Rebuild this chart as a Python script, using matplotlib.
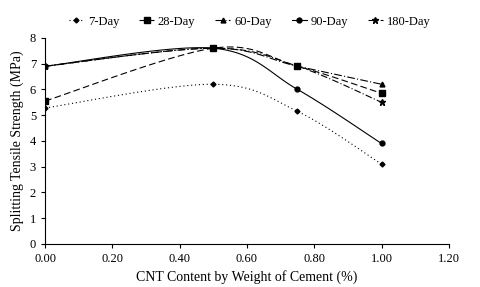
import numpy as np
import matplotlib.pyplot as plt
from matplotlib.lines import Line2D

plt.rcParams['font.family'] = ['Liberation Serif', 'DejaVu Serif']

cnt = [0.0, 0.5, 0.75, 1.0]
day7 = [5.28, 6.2, 5.15, 3.1]
day28 = [5.55, 7.6, 6.9, 5.85]
day60 = [6.9, 7.6, 6.9, 6.2]
day90 = [6.9, 7.6, 6.0, 3.9]
day180 = [6.9, 7.6, 6.9, 5.5]


def smooth(x, y, n=30):
    # Catmull-Rom style smoothing like Excel's "smoothed line"
    x = np.asarray(x, float)
    y = np.asarray(y, float)
    px = np.concatenate([[x[0]], x, [x[-1]]])
    py = np.concatenate([[y[0]], y, [y[-1]]])
    xs, ys = [], []
    t = np.linspace(0, 1, n)
    for i in range(1, len(px) - 2):
        p0 = np.array([px[i], py[i]])
        p3 = np.array([px[i + 1], py[i + 1]])
        p1 = p0 + (np.array([px[i + 1], py[i + 1]]) - np.array([px[i - 1], py[i - 1]])) / 6
        p2 = p3 - (np.array([px[i + 2], py[i + 2]]) - np.array([px[i], py[i]])) / 6
        b = ((1 - t) ** 3)[:, None] * p0 + (3 * (1 - t) ** 2 * t)[:, None] * p1 \
            + (3 * (1 - t) * t ** 2)[:, None] * p2 + (t ** 3)[:, None] * p3
        xs.extend(b[:, 0])
        ys.extend(b[:, 1])
    return xs, ys


series = [
    ("7-Day", day7, (0, (1, 2.5)), 'D', 2.5),
    ("28-Day", day28, (0, (6, 3)), 's', 3.8),
    ("60-Day", day60, (0, (7, 2, 1, 2)), '^', 3.5),
    ("90-Day", day90, '-', 'o', 3.5),
    ("180-Day", day180, (0, (6, 2, 1, 2)), '*', 4.5),
]

fig = plt.figure(figsize=(4.8, 2.87), dpi=100)
ax = fig.add_axes([0.094, 0.150, 0.841, 0.718])

handles = []
for name, vals, ls, mk, ms in series:
    sx, sy = smooth(cnt, vals)
    ax.plot(sx, sy, color='black', linestyle=ls, linewidth=0.8)
    ax.plot(cnt, vals, linestyle='none', marker=mk, markersize=ms, color='black')
    handles.append(Line2D([], [], color='black', linestyle=ls, linewidth=0.8,
                          marker=mk, markersize=ms, label=name))

ax.set_xlim(0, 1.2)
ax.set_ylim(0, 8)
ax.set_xticks(np.arange(0, 1.21, 0.2))
ax.set_xticklabels([f"{v:.2f}" for v in np.arange(0, 1.21, 0.2)])
ax.set_yticks(range(0, 9))
ax.spines['top'].set_visible(False)
ax.spines['right'].set_visible(False)
ax.tick_params(direction='out', length=3, labelsize=9)
ax.set_xlabel("CNT Content by Weight of Cement (%)", fontsize=10)
ax.set_ylabel("Splitting Tensile Strength (MPa)", fontsize=10)

fig.legend(handles=handles, loc='center', bbox_to_anchor=(0.52, 0.925), ncol=5,
           frameon=False, fontsize=9, handlelength=1.2, columnspacing=1.6,
           handletextpad=0.3)

fig.savefig("out.png", dpi=100)
